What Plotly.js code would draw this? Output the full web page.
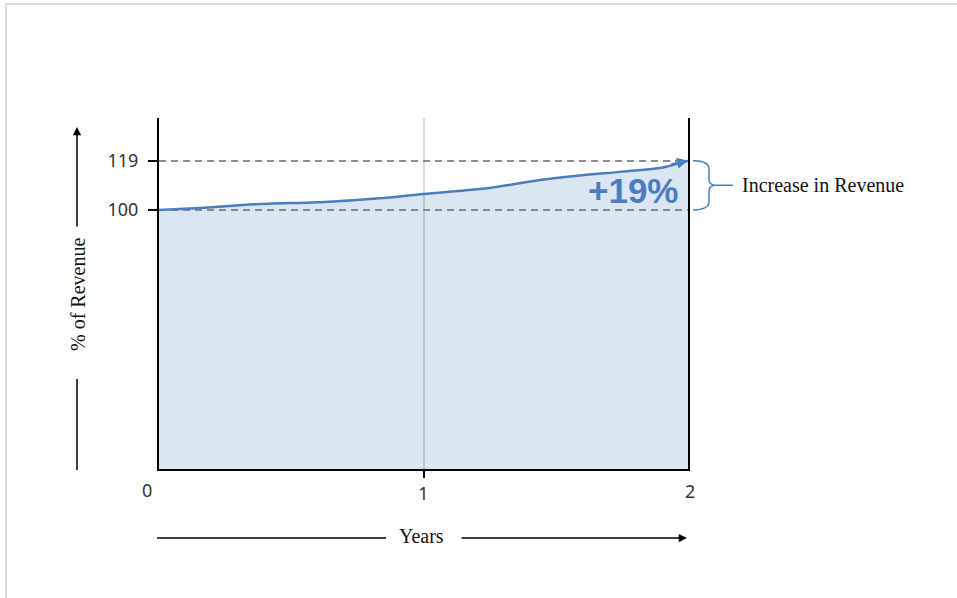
<!DOCTYPE html>
<html>
<head>
<meta charset="utf-8">
<script src="https://cdn.plot.ly/plotly-3.0.1.min.js"></script>
<style>
  html, body { margin: 0; padding: 0; background: #ffffff; }
  #chart { width: 957px; height: 598px; }
</style>
</head>
<body>
<div id="chart"></div>
<script>
// Revenue growth over two years, indexed to 100 at year 0
const years = [0, 0.155, 0.363, 0.627, 0.835, 1.0, 1.25, 1.375, 1.5, 1.75, 1.9, 2.0];
const revenue = [100, 100.8, 102.2, 103.1, 104.5, 106.2, 108.5, 110.5, 112.3, 114.8, 116.3, 119];
const xTickVals = [0, 1, 2];
const xTickLabels = ['0', '1', '2'];
const yTickVals = [100, 119];
const yTickLabels = ['100', '119'];
const xLabel = 'Years';
const yLabel = '% of Revenue';
const bracketLabel = 'Increase in Revenue';

// plot box in pixels (for placing decorations in paper units)
const L = 159, R = 688, T = 118, B = 469;
const W = 957, H = 598;
const px = p => (p - L) / (R - L);
const py = p => (B - p) / (B - T);

const blue = '#4a7ebf';
const serif = 'Liberation Serif, Times New Roman, serif';
const sans = 'Noto Sans, Carlito, Calibri, sans-serif';
const tickFont = { family: sans, size: 18, color: '#333' };
const serifFont = { family: serif, size: 20, color: '#111' };

const first = revenue[0];
const last = revenue[revenue.length - 1];
const growthPct = Math.round((last - first) / first * 100);
const lastX = years[years.length - 1];

const trace = {
  x: years,
  y: revenue,
  type: 'scatter',
  mode: 'lines',
  line: { color: blue, width: 2.5, shape: 'spline', smoothing: 0.8 },
  fill: 'tozeroy',
  fillcolor: 'rgba(79,129,189,0.2)',
  hoverinfo: 'skip'
};

// curly bracket spanning the growth between first and last values
const h = last - first;
const mid = first + h / 2;
const bx = px(709), tip = px(716), start = px(693);
const bracePath =
  `M ${start},${last} Q ${bx},${last} ${bx},${last - 0.17 * h} ` +
  `L ${bx},${mid + 0.12 * h} Q ${bx},${mid} ${tip},${mid} ` +
  `Q ${bx},${mid} ${bx},${mid - 0.12 * h} ` +
  `L ${bx},${first + 0.17 * h} Q ${bx},${first} ${start},${first} ` +
  `M ${tip},${mid} L ${px(733)},${mid}`;

const shapes = [
  // light frame around the figure
  { type: 'rect', xref: 'paper', yref: 'paper',
    x0: px(6), x1: px(964), y0: py(604), y1: py(4),
    line: { color: '#d2d2d2', width: 1.5 } },
  // bracket
  { type: 'path', xref: 'paper', yref: 'y', path: bracePath,
    line: { color: blue, width: 1.5 } },
  // lower part of the vertical axis arrow
  { type: 'line', xref: 'paper', yref: 'paper',
    x0: px(77), x1: px(77), y0: py(470), y1: py(379),
    line: { color: '#000', width: 1.5 } },
  // left part of the horizontal axis arrow
  { type: 'line', xref: 'paper', yref: 'paper',
    x0: px(157), x1: px(386), y0: py(538), y1: py(538),
    line: { color: '#000', width: 1.5 } }
];

const annotations = [
  // end-of-line arrowhead
  { x: lastX, y: last, xref: 'x', yref: 'y', text: '', showarrow: true,
    ax: -18, ay: 4, arrowhead: 2, arrowsize: 1, arrowwidth: 2.2,
    arrowcolor: blue, standoff: 0 },
  // growth label
  { x: lastX, y: first + h * 0.4, xref: 'x', yref: 'y',
    text: '<b>+' + growthPct + '%</b>', showarrow: false,
    xanchor: 'right', yanchor: 'middle', xshift: -7,
    font: { family: 'Liberation Sans, Arial, sans-serif', size: 35, color: blue } },
  // bracket label
  { x: px(740), y: mid, xref: 'paper', yref: 'y', text: bracketLabel,
    showarrow: false, xanchor: 'left', yanchor: 'middle', font: serifFont },
  // origin and end tick labels on the x axis
  { x: xTickVals[0], y: py(490), xref: 'x', yref: 'paper', text: xTickLabels[0],
    showarrow: false, xanchor: 'center', yanchor: 'middle', xshift: -12,
    font: tickFont },
  { x: xTickVals[2], y: py(491), xref: 'x', yref: 'paper', text: xTickLabels[2],
    showarrow: false, xanchor: 'center', yanchor: 'middle', xshift: 2,
    font: tickFont },
  // vertical axis title with arrow
  { x: px(78), y: py(295), xref: 'paper', yref: 'paper', text: yLabel,
    showarrow: false, textangle: -90, xanchor: 'center', yanchor: 'middle',
    font: serifFont },
  { x: px(77), y: py(127), xref: 'paper', yref: 'paper', text: '', showarrow: true,
    ax: 0, ay: 101, arrowhead: 2, arrowsize: 1.1, arrowwidth: 1.5,
    arrowcolor: '#000', standoff: 0 },
  // horizontal axis title with arrow
  { x: px(421), y: py(536), xref: 'paper', yref: 'paper', text: xLabel,
    showarrow: false, xanchor: 'center', yanchor: 'middle', font: serifFont },
  { x: px(687), y: py(538), xref: 'paper', yref: 'paper', text: '', showarrow: true,
    ax: -227, ay: 0, arrowhead: 2, arrowsize: 1.1, arrowwidth: 1.5,
    arrowcolor: '#000', standoff: 0 }
];

const layout = {
  width: W,
  height: H,
  margin: { l: L, r: W - R, t: T, b: H - B, pad: 0 },
  paper_bgcolor: '#ffffff',
  plot_bgcolor: '#ffffff',
  showlegend: false,
  xaxis: {
    range: [xTickVals[0], xTickVals[2]],
    tickvals: [xTickVals[1]],
    ticktext: [xTickLabels[1]],
    ticks: 'outside', ticklen: 7, tickwidth: 2, tickcolor: '#000',
    showgrid: true, gridcolor: '#d9d9d9', gridwidth: 2,
    showline: true, linecolor: '#000', linewidth: 2,
    zeroline: false, fixedrange: true,
    tickfont: tickFont
  },
  yaxis: {
    range: [0, 135.5],
    tickvals: yTickVals,
    ticktext: yTickLabels,
    ticks: 'outside', ticklen: 9, tickwidth: 2, tickcolor: '#000',
    ticklabelstandoff: 6,
    showgrid: true, gridcolor: '#8c8c8c', gridwidth: 2, griddash: '7px,5px',
    showline: true, linecolor: '#000', linewidth: 2, mirror: true,
    zeroline: false, fixedrange: true,
    tickfont: tickFont
  },
  shapes: shapes,
  annotations: annotations
};

Plotly.newPlot('chart', [trace], layout, { displayModeBar: false, staticPlot: true });
</script>
</body>
</html>
